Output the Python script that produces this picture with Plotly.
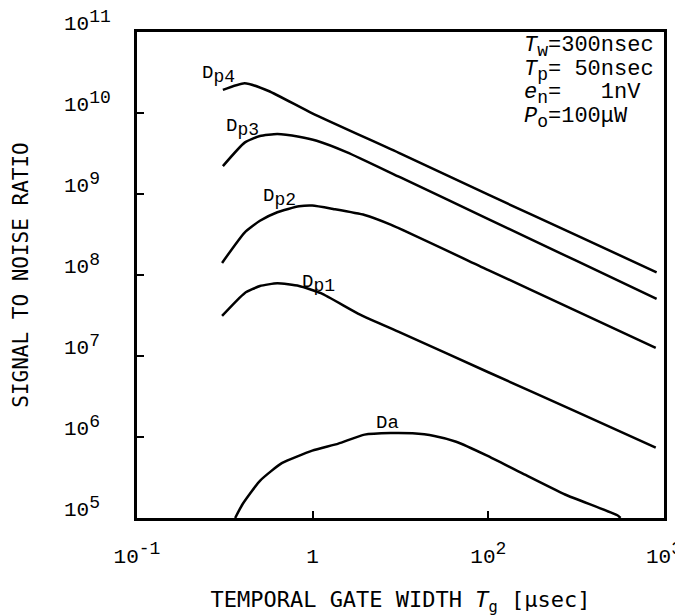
import numpy as np
import plotly.graph_objects as go

# ---- data ----
dp4_x = [0.095, 0.168, 0.315, 0.99, 10, 100, 1000, 8240]
dp4_y = [1.93e10, 2.33e10, 1.87e10, 9.9e9, 3.15e9, 9.8e8, 3.1e8, 1.08e8]

dp3_x = [0.095, 0.168, 0.251, 0.396, 0.70, 1.11, 2.47, 10, 100, 1000, 8240]
dp3_y = [2.21e9, 4.31e9, 5.2e9, 5.5e9, 5.09e9, 4.55e9, 3.27e9, 1.6e9, 4.9e8, 1.5e8, 5.06e7]

dp2_x = [0.093, 0.168, 0.251, 0.396, 0.70, 0.99, 1.75, 3.9, 7.73, 100, 1000, 8050]
dp2_y = [1.41e8, 3.34e8, 4.67e8, 5.96e8, 7.04e8, 7.2e8, 6.5e8, 5.5e8, 4.18e8, 1.15e8, 3.6e7, 1.26e7]

dp1_x = [0.093, 0.168, 0.251, 0.396, 0.70, 1.24, 3.47, 10, 100, 1000, 8050]
dp1_y = [3.13e7, 5.97e7, 7.3e7, 7.9e7, 7.3e7, 5.97e7, 3.24e7, 1.94e7, 6.3e6, 2.06e6, 7.4e5]

da_x = [0.131, 0.159, 0.251, 0.445, 0.99, 1.96, 3.9, 7.73, 13.7, 24.3, 43, 95.5, 238, 747, 2944, 3200]
da_y = [1.0e5, 1.48e5, 2.88e5, 4.75e5, 6.78e5, 8.28e5, 1.07e6, 1.12e6, 1.11e6, 1.03e6, 8.75e5, 5.93e5, 3.6e5, 1.95e5, 1.08e5, 1.0e5]

series = [("Dp4", dp4_x, dp4_y), ("Dp3", dp3_x, dp3_y), ("Dp2", dp2_x, dp2_y),
          ("Dp1", dp1_x, dp1_y), ("Da", da_x, da_y)]

SUP = "<sup><span style='font-size:18px'>%s</span></sup>"
SUB = "<sub><span style='font-size:18px'>%s</span></sub>"
curve_labels = ["D" + SUB % "p4", "D" + SUB % "p3", "D" + SUB % "p2", "D" + SUB % "p1", "Da"]
label_x = [0.085, 0.159, 0.42, 1.18, 7.1]
label_y = [3.0e10, 6.7e9, 9.1e8, 7.9e7, 1.48e6]

x_tickvals = [0.01, 1, 100, 10000]
x_ticktext = ["10" + SUP % "-1", "1", "10" + SUP % "2", "10" + SUP % "3"]
y_tickvals = [1e5, 1e6, 1e7, 1e8, 1e9, 1e10, 1e11]
y_ticktext = ["10" + SUP % (str(k) if k >= 10 else str(k) + "\u00a0") for k in range(5, 12)]

PSUB = "<sub><span style='font-size:18px'>%s</span></sub>"
params = ["<i>T</i>" + PSUB % "w" + "=300nsec",
          "<i>T</i>" + PSUB % "p" + "=\u00a050nsec",
          "<i>e</i>" + PSUB % "n" + "=\u00a0\u00a0\u00a01nV",
          "<i>P</i>" + PSUB % "o" + "=100\u03bcW"]

fig = go.Figure()
for name, xs, ys in series:
    fig.add_trace(go.Scatter(x=xs, y=ys, mode="lines", name=name,
                             line=dict(color="black", width=2.5, shape="spline", smoothing=0.5),
                             showlegend=False, hoverinfo="skip"))

tickfont = dict(family="Liberation Mono", size=21, color="black")
for t, lx, ly in zip(curve_labels, label_x, label_y):
    fig.add_annotation(x=np.log10(lx), y=np.log10(ly), xref="x", yref="y", text=t,
                       showarrow=False, font=dict(family="Liberation Mono", size=19, color="black"))

for i, p in enumerate(params):
    fig.add_annotation(x=0.731, y=0.969 - i * 0.0485, xref="paper", yref="paper", text=p,
                       xanchor="left", yanchor="middle", showarrow=False,
                       font=dict(family="Liberation Mono", size=22, color="black"))

# page has an ~8px body offset; compensate so the frame lands where the reference has it
fig.update_layout(
    width=675, height=608,
    margin=dict(l=129, r=19, t=24, b=98),
    paper_bgcolor="white", plot_bgcolor="white",
    xaxis=dict(type="log", range=[-2, 4], tickvals=x_tickvals, ticktext=x_ticktext,
               showgrid=False, zeroline=False, showline=True, linecolor="black", linewidth=3,
               mirror=True, ticks="inside", ticklen=7, tickwidth=2, tickcolor="black",
               tickfont=tickfont, ticklabelstandoff=17, automargin=False,
               ticklabeloverflow="allow",
               title=dict(text="TEMPORAL GATE WIDTH <i>T</i><sub>g</sub> [\u00b5sec]",
                          font=dict(family="DejaVu Sans Mono", size=22, color="black"),
                          standoff=24)),
    yaxis=dict(type="log", range=[5, 11], tickvals=y_tickvals, ticktext=y_ticktext,
               showgrid=False, zeroline=False, showline=True, linecolor="black", linewidth=3,
               mirror=True, ticks="inside", ticklen=7, tickwidth=2, tickcolor="black",
               tickfont=tickfont, ticklabelshift=-9, ticklabelstandoff=19, automargin=False,
               ticklabeloverflow="allow",
               title=dict(text="SIGNAL TO NOISE RATIO",
                          font=dict(family="DejaVu Sans Mono", size=21, color="black"),
                          standoff=30)),
)

fig.write_html("out.html")
